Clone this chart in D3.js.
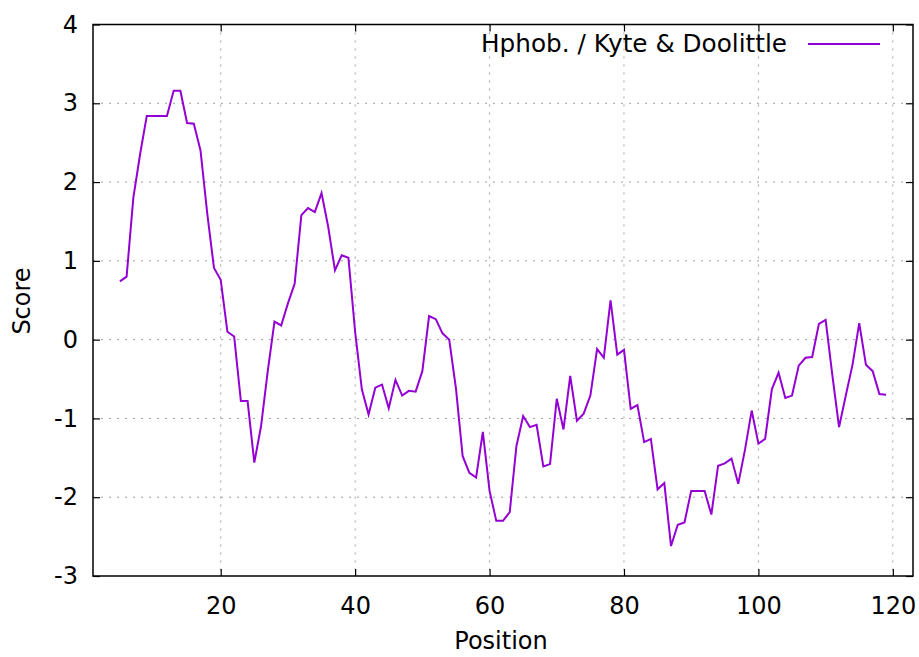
<!DOCTYPE html>
<html>
<head>
<meta charset="utf-8">
<script src="https://cdn.jsdelivr.net/npm/d3@7"></script>
<style>
  html, body { margin: 0; padding: 0; background: #fff; }
  svg text { font-family: "DejaVu Sans", sans-serif; fill: #000; }
</style>
</head>
<body>
<svg id="chart" width="919" height="657"></svg>
<script>
const startPosition = 5;
const scores = [
  0.74, 0.80, 1.80, 2.35, 2.84, 2.84, 2.84, 2.84, 3.16, 3.16,
  2.75, 2.74, 2.40, 1.60, 0.91, 0.76, 0.10, 0.04, -0.78, -0.78,
  -1.56, -1.10, -0.40, 0.23, 0.18, 0.46, 0.71, 1.58, 1.67, 1.62,
  1.86, 1.43, 0.88, 1.07, 1.04, 0.10, -0.63, -0.95, -0.61, -0.57,
  -0.87, -0.51, -0.71, -0.65, -0.66, -0.40, 0.30, 0.26, 0.08, 0.00,
  -0.62, -1.48, -1.69, -1.75, -1.17, -1.92, -2.30, -2.30, -2.19, -1.35,
  -0.97, -1.11, -1.08, -1.61, -1.58, -0.75, -1.14, -0.46, -1.03, -0.94,
  -0.71, -0.12, -0.23, 0.50, -0.19, -0.13, -0.88, -0.83, -1.30, -1.26,
  -1.90, -1.82, -2.62, -2.35, -2.32, -1.92, -1.92, -1.92, -2.22, -1.60,
  -1.57, -1.51, -1.83, -1.40, -0.90, -1.32, -1.26, -0.63, -0.42, -0.74,
  -0.71, -0.33, -0.23, -0.22, 0.20, 0.25, -0.45, -1.11, -0.71, -0.32,
  0.21, -0.32, -0.40, -0.69, -0.70
];
const xTicks = [20, 40, 60, 80, 100, 120];
const yTicks = [-3, -2, -1, 0, 1, 2, 3, 4];
const xDomain = [1, 123];
const yDomain = [-3, 4];
const seriesName = "Hphob. / Kyte & Doolittle";
const xTitle = "Position";
const yTitle = "Score";

const data = scores.map((v, i) => ({ pos: startPosition + i, score: v }));

const svg = d3.select("#chart");
const L = 93, R = 913, T = 24.5, B = 576;
const x = d3.scaleLinear().domain(xDomain).range([L, R]);
const y = d3.scaleLinear().domain(yDomain).range([B, T]);

const gridColor = "#a0a0a0";
// grid
svg.append("g").selectAll("line").data(xTicks).join("line")
  .attr("x1", d => x(d)).attr("x2", d => x(d)).attr("y1", T).attr("y2", B)
  .attr("stroke", gridColor).attr("stroke-width", 1).attr("stroke-dasharray", "2,6");
svg.append("g").selectAll("line").data(yTicks.filter(d => d > yDomain[0] && d < yDomain[1])).join("line")
  .attr("x1", L).attr("x2", R).attr("y1", d => y(d)).attr("y2", d => y(d))
  .attr("stroke", gridColor).attr("stroke-width", 1).attr("stroke-dasharray", "2,6");

// axes
const fs = 24;
const fmt = d => String(d);
const xAxis = svg.append("g").attr("transform", `translate(0,${B})`)
  .call(d3.axisBottom(x).tickValues(xTicks).tickSize(-7).tickPadding(21).tickFormat(fmt));
const yAxis = svg.append("g").attr("transform", `translate(${L},0)`)
  .call(d3.axisLeft(y).tickValues(yTicks).tickSize(-7).tickPadding(15).tickFormat(fmt));
svg.append("g").attr("transform", `translate(0,${T})`)
  .call(d3.axisTop(x).tickValues(xTicks).tickSize(-7).tickFormat(""));
svg.append("g").attr("transform", `translate(${R},0)`)
  .call(d3.axisRight(y).tickValues(yTicks).tickSize(-7).tickFormat(""));
svg.selectAll(".domain").remove();
svg.selectAll(".tick line").attr("stroke", "#000").attr("stroke-width", 1.2);
svg.selectAll(".tick text").attr("font-size", fs).attr("font-family", "DejaVu Sans");
xAxis.selectAll(".tick text").attr("dy", "0.71em");

// border
svg.append("rect").attr("x", L).attr("y", T).attr("width", R - L).attr("height", B - T)
  .attr("fill", "none").attr("stroke", "#000").attr("stroke-width", 1.5);

// line
const line = d3.line().x(d => x(d.pos)).y(d => y(d.score));
svg.append("path").datum(data).attr("d", line)
  .attr("fill", "none").attr("stroke", "#9400d3").attr("stroke-width", 2)
  .attr("stroke-linejoin", "miter");

// legend
svg.append("text").attr("x", 787).attr("y", 52).attr("text-anchor", "end")
  .attr("font-size", fs).attr("textLength", 306).attr("lengthAdjust", "spacingAndGlyphs")
  .text(seriesName);
svg.append("line").attr("x1", 808).attr("x2", 880).attr("y1", 44).attr("y2", 44)
  .attr("stroke", "#9400d3").attr("stroke-width", 2);

// titles
svg.append("text").attr("x", 501).attr("y", 649).attr("text-anchor", "middle")
  .attr("font-size", fs).text(xTitle);
svg.append("text").attr("transform", "translate(30,301) rotate(-90)")
  .attr("text-anchor", "middle").attr("font-size", fs).text(yTitle);
</script>
</body>
</html>
